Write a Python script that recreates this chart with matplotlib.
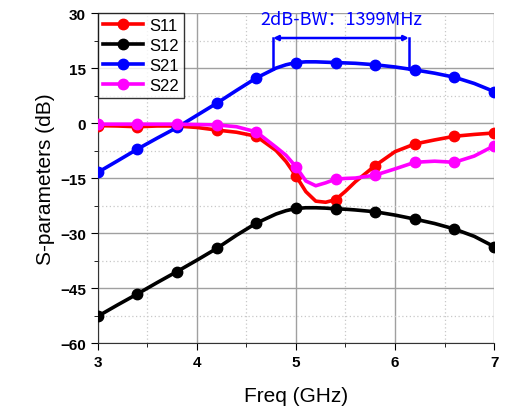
import matplotlib.pyplot as plt
from matplotlib.ticker import MultipleLocator

freq = [3.0, 3.2, 3.4, 3.6, 3.8, 4.0, 4.2, 4.4, 4.6, 4.8, 4.9, 5.0,
        5.1, 5.2, 5.3, 5.4, 5.5, 5.6, 5.8, 6.0, 6.2, 6.4, 6.6, 6.8, 7.0]
s11 = [-0.7, -0.8, -1.0, -0.8, -0.8, -1.2, -1.9, -2.5, -3.6, -7.5, -10.5, -14.4,
       -18.7, -21.3, -21.6, -20.9, -18.6, -16.0, -11.6, -7.8, -5.7, -4.6, -3.6, -3.1, -2.7]
s12 = [-52.7, -49.6, -46.6, -43.5, -40.5, -37.4, -34.2, -30.6, -27.3, -24.8, -23.9, -23.3,
       -23.1, -23.1, -23.2, -23.4, -23.5, -23.7, -24.2, -25.1, -26.2, -27.4, -28.9, -30.9, -33.7]
s21 = [-13.45, -10.3, -7.1, -4.1, -1.2, 2.1, 5.4, 8.9, 12.3, 15.0, 15.9, 16.5,
       16.7, 16.7, 16.6, 16.5, 16.4, 16.3, 15.9, 15.3, 14.5, 13.6, 12.5, 10.8, 8.6]
s22 = [-0.3, -0.3, -0.3, -0.3, -0.3, -0.4, -0.5, -1.0, -2.4, -6.6, -8.8, -11.9,
       -15.8, -17.1, -16.3, -15.3, -15.1, -15.0, -14.2, -12.5, -10.7, -10.4, -10.7, -9.0, -6.2]
marker_freq = [3.0, 3.4, 3.8, 4.2, 4.6, 5.0, 5.4, 5.8, 6.2, 6.6, 7.0]

series = [("S11", s11, "#ff0000"), ("S12", s12, "#000000"),
          ("S21", s21, "#0000ff"), ("S22", s22, "#ff00ff")]

bw_start, bw_stop = 4.77, 6.14
bw_level, bw_top = 14.7, 23.2

plt.rcParams["font.family"] = ["Liberation Sans", "DejaVu Sans"]

fig = plt.figure(figsize=(5.12, 4.14), dpi=100)
ax = fig.add_axes([0.191, 0.169, 0.774, 0.797])

mark_idx = [i for i, f in enumerate(freq) if round(f, 1) in marker_freq]
for name, vals, color in series:
    ax.plot(freq, vals, color=color, lw=2.6, marker="o", ms=7.5,
            markevery=mark_idx, label=name, zorder=3)

ax.set_xlim(3, 7)
ax.set_ylim(-60, 30)
ax.xaxis.set_major_locator(MultipleLocator(1))
ax.xaxis.set_minor_locator(MultipleLocator(0.5))
ax.yaxis.set_major_locator(MultipleLocator(15))
ax.yaxis.set_minor_locator(MultipleLocator(7.5))
ax.grid(which="major", color="#a0a0a0", lw=1.0, zorder=0)
ax.grid(which="minor", color="#c8c8c8", lw=0.9, ls=(0, (1, 2)), zorder=0)
ax.set_axisbelow(True)

for side in ("top", "right"):
    ax.spines[side].set_visible(False)
ax.spines["left"].set_color("#333333")
ax.spines["bottom"].set_color("#333333")
ax.tick_params(which="major", direction="out", length=5, labelsize=11)
ax.tick_params(which="minor", direction="out", length=3)
for lbl in ax.get_xticklabels() + ax.get_yticklabels():
    lbl.set_fontweight("bold")

ax.set_xlabel("Freq (GHz)", fontsize=15, labelpad=12)
ax.set_ylabel("S-parameters (dB)", fontsize=15, labelpad=4)

# bandwidth bracket
ax.plot([bw_start, bw_start], [bw_level, bw_top], color="#0000ff", lw=1.8, zorder=4)
ax.plot([bw_stop, bw_stop], [bw_level, bw_top], color="#0000ff", lw=1.8, zorder=4)
ax.annotate("", xy=(bw_start, bw_top), xytext=(bw_stop, bw_top),
            arrowprops=dict(arrowstyle="<|-|>", color="#0000ff", lw=1.8,
                            mutation_scale=7, shrinkA=0, shrinkB=0), zorder=4)
ax.text((bw_start + bw_stop) / 2, 28.4, "2dB-BW：1399MHz", color="#0000ff",
        ha="center", va="center", fontsize=13, fontweight="medium",
        family=["Noto Sans CJK SC", "DejaVu Sans"])

leg = ax.legend(loc="upper left", bbox_to_anchor=(0.0, 1.0), fontsize=12,
                frameon=True, fancybox=False, borderpad=0.3, handlelength=2.4,
                handletextpad=0.4, labelspacing=0.3, borderaxespad=0.0)
leg.get_frame().set_edgecolor("black")
leg.get_frame().set_linewidth(1.0)

fig.savefig("out.png", dpi=100)
